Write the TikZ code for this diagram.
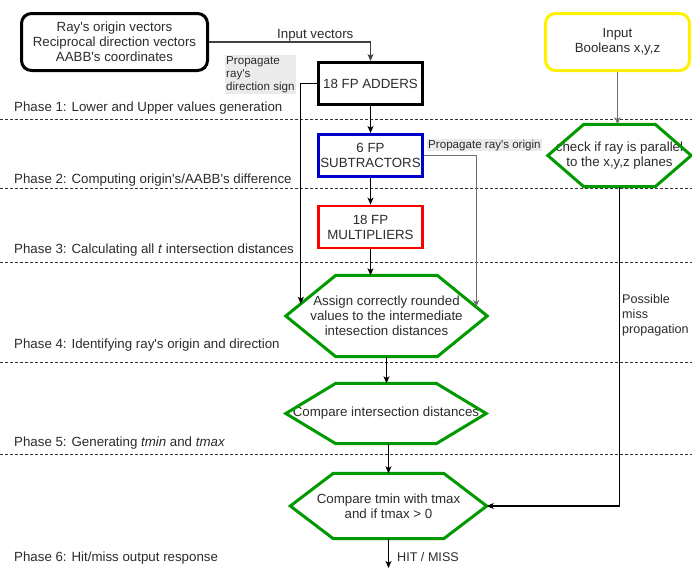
\documentclass[tikz,border=0pt]{standalone}
\usepackage{fontspec}
\setmainfont{Liberation Sans}[Ligatures=TeXOff]
\usetikzlibrary{arrows.meta,calc}
\definecolor{dgreen}{HTML}{009900}
\definecolor{txt}{HTML}{2B2B2B}
\definecolor{lbg}{HTML}{EBEBEB}
\definecolor{lgray}{HTML}{6F6F6F}
\definecolor{dgray}{HTML}{404040}
\definecolor{bblue}{HTML}{0000CC}
\newcommand{\hexdraw}[2]{%
  \draw[hexline] (#1.west) -- ([xshift=#2]#1.north west) -- ([xshift=-#2]#1.north east)
    -- (#1.east) -- ([xshift=-#2]#1.south east) -- ([xshift=#2]#1.south west) -- cycle;}
\begin{document}
\begin{tikzpicture}[x=1pt,y=-1pt,
  every node/.style={text=txt, font=\fontsize{13.3}{15}\selectfont},
  box/.style={draw, line width=3pt, minimum width=104pt, minimum height=42pt, align=center, inner sep=0pt},
  rbox/.style={draw, line width=3pt, rounded corners=10pt, align=center, inner sep=0pt},
  hexnode/.style={draw=none, align=center, inner sep=0pt},
  hexline/.style={draw=dgreen, line width=3pt},
  conn/.style={line width=1.1pt, -{Stealth[length=7pt,width=6pt,inset=1.8pt]}},
  phase/.style={line width=0.8pt, dash pattern=on 2.5pt off 2.5pt, black!80},
  plabel/.style={anchor=west},
  smalllab/.style={font=\fontsize{11.6}{13}\selectfont, fill=lbg, inner sep=1pt, align=left},
  midlab/.style={font=\fontsize{12.6}{15}\selectfont, inner sep=0pt, align=left}]
\useasboundingbox (0,0) rectangle (692,571);

% phase separators
\draw[phase] (0,119) -- (692,119);
\draw[phase] (0,188) -- (692,188);
\draw[phase] (0,262) -- (692,262);
\draw[phase] (0,362) -- (692,362);
\draw[phase] (0,454) -- (692,454);

% phase labels
\node[plabel, inner sep=0pt] (ph1) at (14,108) {Phase 1: Lower and Upper values generation};
\node[plabel, inner sep=0pt] (ph2) at (14,180) {Phase 2: Computing origin's/AABB's difference};
\node[plabel, inner sep=0pt] (ph3) at (14,250) {Phase 3: Calculating all \textit{t} intersection distances};
\node[plabel, inner sep=0pt] (ph4) at (14,345) {Phase 4: Identifying ray's origin and direction};
\node[plabel, inner sep=0pt] (ph5) at (14,443) {Phase 5: Generating \textit{tmin} and \textit{tmax}};
\node[plabel, inner sep=0pt] (ph6) at (14,558) {Phase 6: Hit/miss output response};

% boxes
\node[rbox, minimum width=186pt, minimum height=57pt] (src) at (114.5,42)
  {Ray's origin vectors\\Reciprocal direction vectors\\AABB's coordinates};
\node[rbox, draw=yellow, minimum width=144pt, minimum height=57pt] (inb) at (617.5,42)
  {Input\\Booleans x,y,z};
\node[box] (adders) at (370.5,83.5) {18 FP ADDERS};
\node[box, draw=bblue] (subtr) at (370.5,155.5) {6 FP\\SUBTRACTORS};
\node[box, draw=red, line width=2.8pt] (mult) at (370.5,227) {18 FP\\MULTIPLIERS};

% hexagons
\node[hexnode, minimum width=143pt, minimum height=62pt] (check) at (619.5,155.5)
  {check if ray is parallel\\to the x,y,z planes};
\hexdraw{check}{36}
\node[hexnode, minimum width=201pt, minimum height=81pt] (assign) at (386.5,316)
  {Assign correctly rounded\\values to the intermediate\\intesection distances};
\hexdraw{assign}{50}
\node[hexnode, minimum width=200pt, minimum height=60pt] (cmp) at (386,413.5)
  {Compare intersection distances};
\hexdraw{cmp}{50}
\node[hexnode, minimum width=196pt, minimum height=65pt] (tmin) at (388.5,506)
  {Compare tmin with tmax\\and if tmax > 0};
\hexdraw{tmin}{43}

% edge points on the Assign hexagon
\coordinate (aL) at ($(assign.west)!0.3!([xshift=50]assign.north west)$);
\coordinate (aR) at ($(assign.east)!0.22!([xshift=-50]assign.north east)$);
\coordinate (out) at (388.5,568);

% labels
\node[midlab, anchor=west, font=\fontsize{13.3}{15}\selectfont] (lblIV) at (277,35) {Input vectors};
\node[smalllab, anchor=north west] (lblPD) at (225,55) {Propagate\\ray's\\direction sign};
\node[smalllab, anchor=west] (lblPO) at (427,145) {Propagate ray's origin};
\node[midlab, anchor=north west] (lblPM) at (622,294) {Possible\\miss\\propagation};
\node[midlab, anchor=west] (lblHM) at (397,557) {HIT / MISS};

% connectors
\draw[conn, dgray] (src.east) -| (adders.north);
\draw[conn] (adders.south) -- (subtr.north);
\draw[conn] (subtr.south) -- (mult.north);
\draw[conn] (mult.south) -- (mult.south |- assign.north);
\draw[conn] (adders.west) -| (aL);
\draw[conn, lgray] (subtr.east) -| (aR);
\draw[conn, lgray] (inb.south) -- (inb.south |- check.north);
\draw[conn] (check.south) |- (tmin.east);
\draw[conn] (assign.south) -- (assign.south |- cmp.north);
\draw[conn] (cmp.south -| tmin.north) -- (tmin.north);
\draw[conn] (tmin.south) -- (out);
\end{tikzpicture}
\end{document}
